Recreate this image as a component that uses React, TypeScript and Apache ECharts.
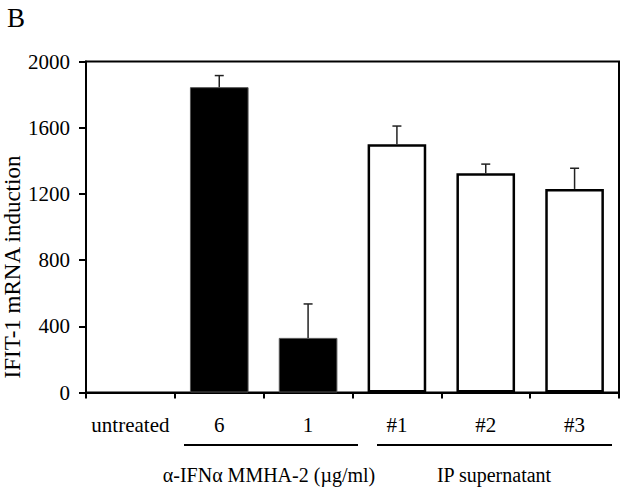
import React, { useEffect, useRef } from "react";
import * as echarts from "echarts";

const categories = ["untreated", "6", "1", "#1", "#2", "#3"];
const means = [0, 1845, 330, 1500, 1325, 1230];
const errors = [0, 70, 205, 110, 55, 125];
const filled = [true, true, true, false, false, false];
const yTicks = { min: 0, max: 2000, interval: 400 };
const yTitle = "IFIT-1 mRNA induction";
const groupLabels = ["α-IFNα MMHA-2 (µg/ml)", "IP supernatant"];
const panelLetter = "B";

const FONT = "Liberation Serif";

export default function App() {
  const ref = useRef<HTMLDivElement>(null);
  useEffect(() => {
    document.body.style.margin = "0";
    if (!ref.current) return;
    const chart = echarts.init(ref.current, null, { renderer: "svg" });
    const barData = means.map((v, i) => ({
      value: v,
      itemStyle:
        v === 0
          ? { color: "transparent", borderWidth: 0 }
          : filled[i]
          ? { color: "#000", borderColor: "#555", borderWidth: 1 }
          : { color: "#fff", borderColor: "#000", borderWidth: 2.5 },
    }));
    const errData = means.map((v, i) => [i, v, v + errors[i]]);
    chart.setOption({
      animation: false,
      grid: {
        left: 86,
        right: 6,
        top: 61.5,
        bottom: 95.5,
        show: true,
        borderColor: "#000",
        borderWidth: 2,
        backgroundColor: "transparent",
      },
      xAxis: {
        type: "category",
        data: categories,
        axisLine: { lineStyle: { color: "#000", width: 2 } },
        axisTick: { show: true, length: 6, lineStyle: { color: "#000", width: 2 } },
        axisLabel: {
          interval: 0,
          color: "#000",
          fontFamily: FONT,
          fontSize: 21,
          margin: 22,
        },
      },
      yAxis: {
        type: "value",
        min: yTicks.min,
        max: yTicks.max,
        interval: yTicks.interval,
        splitLine: { show: false },
        axisLine: { show: true, lineStyle: { color: "#000", width: 2 } },
        axisTick: { show: true, length: 7, lineStyle: { color: "#000", width: 2 } },
        axisLabel: {
          color: "#000",
          fontFamily: FONT,
          fontSize: 21,
          margin: 16,
          formatter: (v: number) => String(v),
        },
      },
      series: [
        {
          type: "bar",
          data: barData,
          barWidth: "66%",
        },
        {
          type: "custom",
          data: errData,
          z: 5,
          renderItem: (params: any, api: any) => {
            const i = api.value(0);
            if (api.value(2) === api.value(1)) return { type: "group", children: [] };
            const lo = api.coord([i, api.value(1)]);
            const hi = api.coord([i, api.value(2)]);
            const hw = 4.5;
            const style = { stroke: "#222", lineWidth: 1.5 };
            return {
              type: "group",
              children: [
                { type: "line", shape: { x1: lo[0], y1: lo[1], x2: hi[0], y2: hi[1] }, style },
                { type: "line", shape: { x1: hi[0] - hw, y1: hi[1], x2: hi[0] + hw, y2: hi[1] }, style },
              ],
            };
          },
        },
      ],
      graphic: [
        {
          type: "text",
          left: 7,
          top: 4,
          style: { text: panelLetter, font: `27px ${FONT}`, fill: "#000" },
        },
        {
          type: "text",
          x: 12,
          y: 267,
          rotation: Math.PI / 2,
          style: {
            text: yTitle,
            font: `23px ${FONT}`,
            fill: "#000",
            align: "center",
            verticalAlign: "middle",
          },
        },
        {
          type: "line",
          shape: { x1: 184, y1: 445, x2: 358, y2: 445 },
          style: { stroke: "#000", lineWidth: 2 },
        },
        {
          type: "line",
          shape: { x1: 377, y1: 445, x2: 612, y2: 445 },
          style: { stroke: "#000", lineWidth: 2 },
        },
        {
          type: "text",
          x: 269,
          y: 475,
          style: {
            text: groupLabels[0],
            font: `20px ${FONT}`,
            fill: "#000",
            align: "center",
            verticalAlign: "middle",
          },
        },
        {
          type: "text",
          x: 494,
          y: 475,
          style: {
            text: groupLabels[1],
            font: `20px ${FONT}`,
            fill: "#000",
            align: "center",
            verticalAlign: "middle",
          },
        },
      ],
    });
    return () => chart.dispose();
  }, []);
  return <div ref={ref} style={{ width: 625, height: 488 }} />;
}
